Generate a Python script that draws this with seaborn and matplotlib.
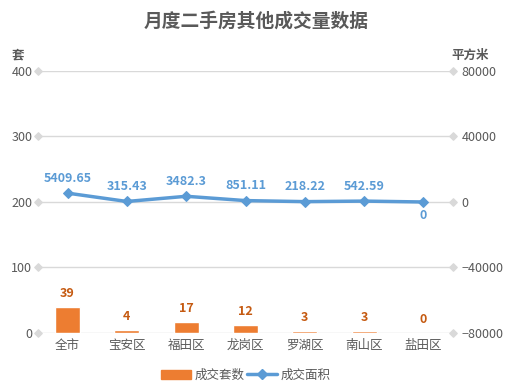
import numpy as np
import pandas as pd
import matplotlib
matplotlib.use("Agg")
import matplotlib.pyplot as plt
import seaborn as sns
from matplotlib.patches import Patch
from matplotlib.lines import Line2D

categories = ["全市", "宝安区", "福田区", "龙岗区", "罗湖区", "南山区", "盐田区"]
counts = [39, 4, 17, 12, 3, 3, 0]
areas = [5409.65, 315.43, 3482.3, 851.11, 218.22, 542.59, 0]
area_labels = ["5409.65", "315.43", "3482.3", "851.11", "218.22", "542.59", "0"]
left_ticks = [0, 100, 200, 300, 400]
right_ticks = [-80000, -40000, 0, 40000, 80000]

sns.set_theme(style="white")
plt.rcParams["font.family"] = ["Noto Sans CJK SC", "DejaVu Sans"]

BAR = "#ED7D31"
LINE = "#5B9BD5"
TXT = "#595959"
GRID = "#D9D9D9"

fig = plt.figure(figsize=(5.12, 3.88), dpi=100)
ax = fig.add_axes([0.074, 0.1418, 0.811, 0.6752])
df = pd.DataFrame({"cat": categories, "count": counts})
sns.barplot(data=df, x="cat", y="count", color=BAR, width=0.42, ax=ax, saturation=1)
ax.set_xlim(-0.5, len(categories) - 0.5)
ax.set_ylim(0, 400)
ax.set_yticks(left_ticks)
ax.set_xlabel("")
ax.set_ylabel("")
for s in ax.spines.values():
    s.set_visible(False)
ax.tick_params(axis="both", length=0, colors=TXT, labelsize=9, pad=4)
for t in left_ticks:
    ax.axhline(t, color=GRID, lw=1, zorder=0)
ax.scatter([0] * len(left_ticks), left_ticks, marker="D", s=14, color=GRID,
           transform=ax.get_yaxis_transform(), clip_on=False, zorder=1)
ax.scatter([1] * len(left_ticks), left_ticks, marker="D", s=14, color=GRID,
           transform=ax.get_yaxis_transform(), clip_on=False, zorder=1)
for i, v in enumerate(counts):
    ax.annotate(str(v), (i, v), xytext=(0, 5), textcoords="offset points",
                ha="center", va="bottom", color="#C55A11", fontsize=9, fontweight="bold")

ax2 = ax.twinx()
ax2.set_position(ax.get_position())
sns.lineplot(x=np.arange(len(categories)), y=areas, ax=ax2, color=LINE, lw=2.5,
             marker="D", markersize=5, markeredgecolor=LINE)
ax2.set_ylim(-80000, 80000)
ax2.set_yticks(right_ticks)
ax2.set_xlim(-0.5, len(categories) - 0.5)
for s in ax2.spines.values():
    s.set_visible(False)
ax2.tick_params(axis="y", length=0, colors=TXT, labelsize=9, pad=6)
for i, (v, lab) in enumerate(zip(areas, area_labels)):
    if i == len(areas) - 1:
        ax2.annotate(lab, (i, v), xytext=(0, -5), textcoords="offset points",
                     ha="center", va="top", color=LINE, fontsize=9, fontweight="bold")
    else:
        ax2.annotate(lab, (i, v), xytext=(0, 6), textcoords="offset points",
                     ha="center", va="bottom", color=LINE, fontsize=9, fontweight="bold")

fig.text(0.5, 0.945, "月度二手房其他成交量数据", ha="center", va="center",
         fontsize=13.5, fontweight="bold", color=TXT)
fig.text(0.035, 0.858, "套", ha="center", va="center", fontsize=9, fontweight="bold", color=TXT)
fig.text(0.918, 0.858, "平方米", ha="center", va="center", fontsize=9, fontweight="bold", color=TXT)

handles = [Patch(color=BAR), Line2D([0], [0], color=LINE, lw=2.5, marker="D", markersize=5)]
fig.legend(handles, ["成交套数", "成交面积"], loc="center", bbox_to_anchor=(0.48, 0.033),
           ncol=2, frameon=False, fontsize=9, handlelength=2.4, columnspacing=0.2,
           handletextpad=0.3, labelcolor=TXT)

fig.savefig("out.png", dpi=100)
